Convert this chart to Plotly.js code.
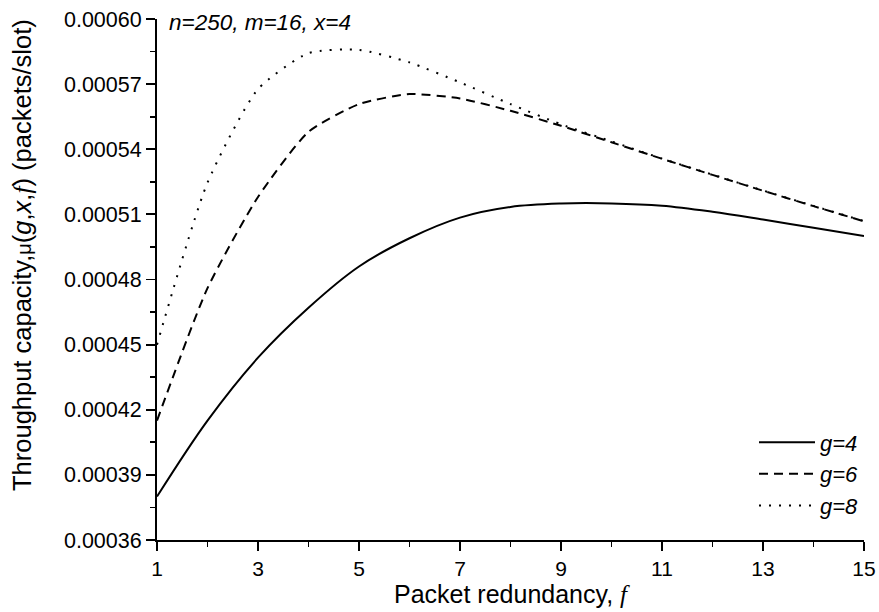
<!DOCTYPE html>
<html>
<head>
<meta charset="utf-8">
<script src="https://cdn.plot.ly/plotly-3.0.1.min.js"></script>
<style>html,body{margin:0;padding:0;background:#fff;}#chart{width:879px;height:612px;}</style>
</head>
<body>
<div id="chart"></div>
<script>
// Packet redundancy f
var fValues = [1, 2, 3, 4, 5, 6, 7, 8, 9, 10, 11, 12, 13, 14, 15];
// Throughput capacity for each g
var g4 = [0.000380, 0.000415, 0.000444, 0.000467, 0.000486, 0.000499, 0.0005085, 0.0005134, 0.000515, 0.00051505, 0.000514, 0.0005112, 0.0005076, 0.0005038, 0.000500];
var g6 = [0.000415, 0.000476, 0.000518, 0.000548, 0.0005608, 0.0005654, 0.0005634, 0.0005577, 0.0005508, 0.0005432, 0.0005356, 0.0005282, 0.0005209, 0.0005138, 0.0005068];
var g8 = [0.000450, 0.0005246, 0.0005677, 0.0005843, 0.0005858, 0.000580, 0.0005708, 0.0005608, 0.0005515, 0.0005436, 0.0005357, 0.0005283, 0.000521, 0.0005139, 0.0005069];

var seriesNames = ['g=4', 'g=6', 'g=8'];
var xTickVals = [1, 3, 5, 7, 9, 11, 13, 15];

var base = {type: 'scatter', mode: 'lines', hoverinfo: 'skip'};
var traces = [
  Object.assign({}, base, {x: fValues, y: g4, name: seriesNames[0],
    line: {color: '#000', width: 2, shape: 'spline', smoothing: 1}}),
  Object.assign({}, base, {x: fValues, y: g6, name: seriesNames[1],
    line: {color: '#000', width: 2, dash: '9px,6px', shape: 'spline', smoothing: 0.6}}),
  Object.assign({}, base, {x: fValues, y: g8, name: seriesNames[2],
    line: {color: '#000', width: 2, dash: '2px,8px', shape: 'spline', smoothing: 0.6}})
];

var fontFam = 'Arial, "Liberation Sans", sans-serif';
var serifF = '<span style="font-family:\'Liberation Serif\',\'Times New Roman\',serif"><i>f</i></span>';
var layout = {
  width: 879, height: 612,
  margin: {l: 157, r: 15, t: 19, b: 72, pad: 0},
  paper_bgcolor: '#fff', plot_bgcolor: '#fff',
  font: {family: fontFam, color: '#000', size: 21},
  showlegend: true,
  legend: {
    x: 1.0, y: 0.026, xanchor: 'right', yanchor: 'bottom',
    bgcolor: 'rgba(0,0,0,0)', borderwidth: 0,
    font: {family: fontFam, size: 22, style: 'italic', color: '#000'},
    itemwidth: 56, traceorder: 'normal'
  },
  xaxis: {
    range: [1, 15], tickvals: xTickVals, ticktext: xTickVals.map(String),
    showline: true, linecolor: '#000', linewidth: 2, mirror: false,
    ticks: 'outside', ticklen: 9, tickwidth: 1.8, tickcolor: '#000',
    minor: {dtick: 1, tick0: 1, ticks: 'outside', ticklen: 5, tickwidth: 1.8, tickcolor: '#000', showgrid: false},
    showgrid: false, zeroline: false,
    tickfont: {size: 21},
    title: {text: 'Packet redundancy, ' + serifF, font: {size: 25}, standoff: 2}
  },
  yaxis: {
    range: [0.00036, 0.00060], tick0: 0.00036, dtick: 0.00003, tickformat: '.5f',
    showline: true, linecolor: '#000', linewidth: 2, mirror: false,
    ticks: 'outside', ticklen: 9, tickwidth: 1.8, tickcolor: '#000',
    minor: {dtick: 0.000015, tick0: 0.00036, ticks: 'outside', ticklen: 5, tickwidth: 1.8, tickcolor: '#000', showgrid: false},
    showgrid: false, zeroline: false,
    tickfont: {size: 21.5}
  },
  annotations: [
    {
      xref: 'paper', yref: 'paper', x: 0.014, y: 0.994, xanchor: 'left', yanchor: 'middle',
      text: '<i>n=250, m=16, x=4</i>', showarrow: false, font: {size: 22.5, family: fontFam}
    },
    {
      xref: 'paper', yref: 'paper', x: -0.191, y: 0.547, xanchor: 'center', yanchor: 'middle',
      textangle: -90, showarrow: false, font: {size: 25.5, family: fontFam},
      text: 'Throughput capacity,<span style="font-size:20px">μ</span>(<i>g</i>,<i>x</i>,' + serifF + ') (packets/slot)'
    }
  ]
};

Plotly.newPlot('chart', traces, layout, {displayModeBar: false, staticPlot: true});
</script>
</body>
</html>
